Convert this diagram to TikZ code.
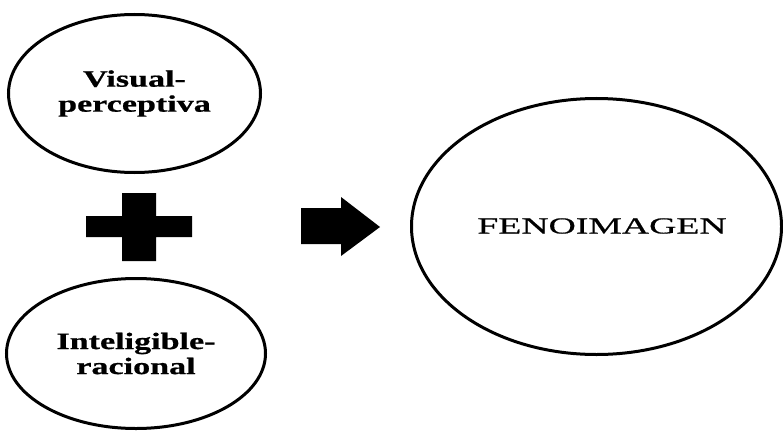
\documentclass[tikz,border=0pt]{standalone}
\usepackage{fontspec}
\usetikzlibrary{shapes.geometric}
\newfontfamily\boldstretch[FakeStretch=1.45,FakeBold=0.8]{Liberation Serif}
\newfontfamily\regstretch[FakeStretch=1.64,FakeBold=0.6]{Liberation Serif}
\begin{document}
\begin{tikzpicture}[x=1pt,y=-1pt,
  oval/.style={draw=black,line width=3pt,ellipse,inner sep=0pt,outer sep=0pt,align=center},
  boldlabel/.style={font=\boldstretch\fontsize{23.5}{25}\selectfont\bfseries},
  reglabel/.style={font=\regstretch\fontsize{23}{25}\selectfont},
  solidshape/.style={fill=black,draw=none}]
\useasboundingbox (0,0) rectangle (783,433);
\fill[white] (0,0) rectangle (783,433);
\node[oval,boldlabel,minimum width=252pt,minimum height=158pt] (vis) at (134.5,93.5) {Visual-\\perceptiva};
\node[oval,boldlabel,minimum width=259pt,minimum height=150pt] (int) at (136,353.5) {Inteligible-\\racional};
\node[oval,minimum width=370pt,minimum height=256pt] (feno) at (596.5,226.5) {};
\node[reglabel,inner sep=0pt] (fenotext) at (602,226) {FENOIMAGEN};
% plus sign
\fill[solidshape] (122,193) -- (156,193) -- (156,216) -- (192,216) -- (192,237) -- (156,237) -- (156,261) -- (122,261) -- (122,237) -- (86,237) -- (86,216) -- (122,216) -- cycle;
% arrow
\fill[solidshape] (301,208) -- (341,208) -- (341,197) -- (380,227) -- (341,256) -- (341,244) -- (301,244) -- cycle;
\end{tikzpicture}
\end{document}
